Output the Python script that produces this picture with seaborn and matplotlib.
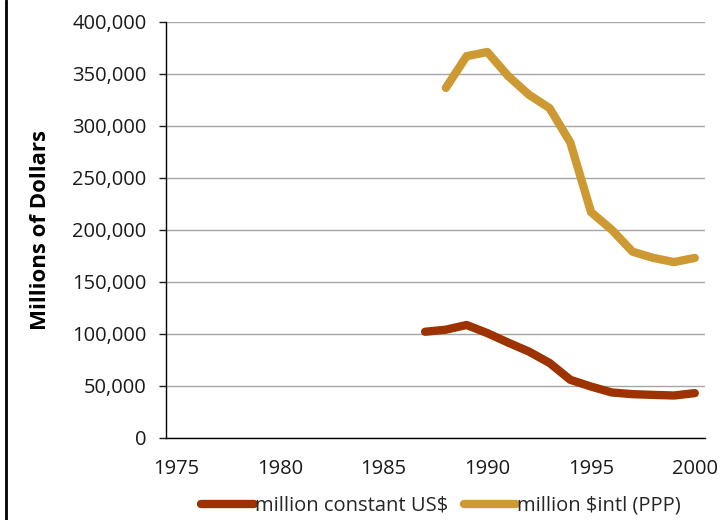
import pandas as pd
import matplotlib.pyplot as plt
import seaborn as sns
from matplotlib.lines import Line2D
from matplotlib.ticker import FuncFormatter

# data
years_usd = [1987, 1988, 1989, 1990, 1991, 1992, 1993, 1994, 1995, 1996, 1997, 1998, 1999, 2000]
usd = [102000, 104000, 108500, 100700, 91600, 83000, 72000, 55800, 49300, 43600, 42000, 41300, 40700, 43000]
years_ppp = [1988, 1989, 1990, 1991, 1992, 1993, 1994, 1995, 1996, 1997, 1998, 1999, 2000]
ppp = [336500, 367000, 371000, 348000, 330000, 317000, 284000, 217000, 200000, 179000, 173000, 169000, 173000]
x_ticks = [1975, 1980, 1985, 1990, 1995, 2000]
y_ticks = [0, 50000, 100000, 150000, 200000, 250000, 300000, 350000, 400000]
series_names = ['million constant US$', 'million $intl (PPP)']
colors = ['#9C3300', '#CC9933']

df = pd.concat([
    pd.DataFrame({'year': years_usd, 'value': usd, 'series': series_names[0]}),
    pd.DataFrame({'year': years_ppp, 'value': ppp, 'series': series_names[1]}),
])

sns.set_style('white')
plt.rcParams['font.family'] = ['Open Sans', 'DejaVu Sans']

fig = plt.figure(figsize=(7.21, 5.20), dpi=100)
ax = fig.add_axes([0.230, 0.158, 0.748, 0.800])

sns.lineplot(data=df, x='year', y='value', hue='series', hue_order=series_names,
             palette=colors, linewidth=6, ax=ax, legend=False,
             solid_capstyle='round', solid_joinstyle='round')

ax.set_xlim(1974.5, 2000.5)
ax.set_ylim(0, 400000)
ax.set_xticks(x_ticks)
ax.set_yticks(y_ticks)
ax.yaxis.set_major_formatter(FuncFormatter(lambda v, p: f'{int(v):,}'))
ax.tick_params(axis='y', labelsize=14.5, colors='#1a1a1a', length=5, width=1, direction='out', left=True, pad=9)
ax.tick_params(axis='x', labelsize=14.5, colors='#1a1a1a', length=0, pad=15)
ax.grid(axis='y', color='#A6A6A6', linewidth=1)
ax.set_axisbelow(True)
for s in ['top', 'right']:
    ax.spines[s].set_visible(False)
for s in ['left', 'bottom']:
    ax.spines[s].set_color('black')
    ax.spines[s].set_linewidth(1)
ax.set_xlabel('')
ax.set_ylabel('Millions of Dollars', fontsize=16, fontweight='bold', labelpad=15, color='black')

handles = [Line2D([0], [0], color=c, linewidth=6, solid_capstyle='round') for c in colors]
fig.legend(handles, series_names, loc='lower center', bbox_to_anchor=(0.612, -0.027), ncol=2,
           frameon=False, fontsize=14.5, handlelength=2.6, handletextpad=0.05, columnspacing=0.8)

# left border of the chart frame
fig.add_artist(Line2D([0.008, 0.008], [0, 1], color='black', linewidth=2, transform=fig.transFigure))

fig.savefig('out.png', dpi=100)
